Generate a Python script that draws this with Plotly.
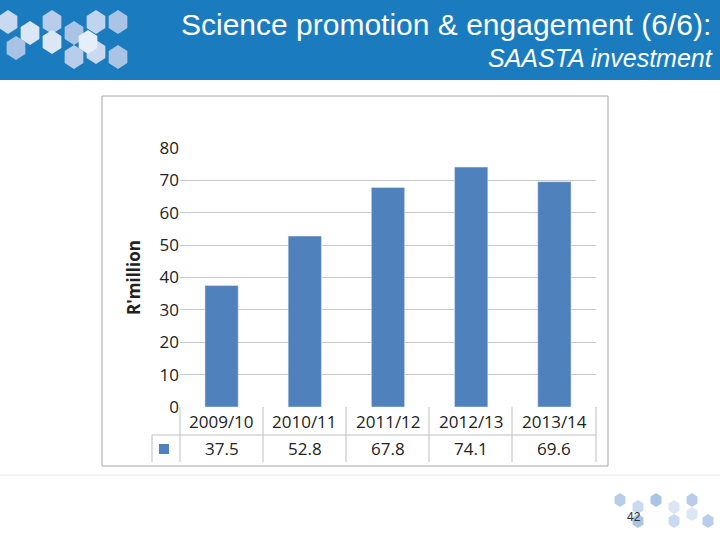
import math
import plotly.graph_objects as go

years = ["2009/10", "2010/11", "2011/12", "2012/13", "2013/14"]
spend = [37.5, 52.8, 67.8, 74.1, 69.6]
y_ticks = [0, 10, 20, 30, 40, 50, 60, 70, 80]

W, H = 720, 540


def px(x):
    return x / W


def py(y):
    return 1 - y / H


def hex_path(cx, cy, r):
    pts = []
    for k in range(6):
        a = math.radians(60 * k + 30)
        pts.append((px(cx + r * 0.9 * math.cos(a)), py(cy + r * math.sin(a))))
    return "M " + " L ".join(f"{a:.5f},{b:.5f}" for a, b in pts) + " Z"


fig = go.Figure()
fig.add_trace(go.Bar(x=years, y=spend, marker_color="#4f81bd", width=0.4))

shapes = []
# header band
shapes.append(dict(type="rect", xref="paper", yref="paper", x0=0, x1=1, y0=py(80), y1=1,
                   fillcolor="#1b7bbf", line_width=0, layer="below"))
# header hexagons
for cx, cy, c in [(8, 22, "#c9daf0"), (30, 33, "#dce7f5"), (52, 22, "#b7cde9"), (74, 33, "#aac4e6"),
                  (96, 22, "#c0d4ee"), (118, 22, "#aac4e6"), (16, 48, "#a9c3e5"), (52, 42, "#dce7f5"),
                  (74, 57, "#b7cde9"), (96, 52, "#c9daf0"), (118, 57, "#aac4e6"), (88, 42, "#e6eef9")]:
    shapes.append(dict(type="path", xref="paper", yref="paper", path=hex_path(cx, cy, 12),
                       fillcolor=c, line_width=0))
# footer hexagons
for cx, cy, c in [(620, 500, "#b7cde9"), (638, 507, "#c9daf0"), (656, 500, "#aac4e6"),
                  (674, 507, "#dce7f5"), (692, 500, "#b7cde9"), (638, 521, "#aac4e6"),
                  (674, 521, "#c9daf0"), (692, 514, "#dce7f5"), (708, 521, "#b7cde9")]:
    shapes.append(dict(type="path", xref="paper", yref="paper", path=hex_path(cx, cy, 7),
                       fillcolor=c, line_width=0))
# separator line
shapes.append(dict(type="line", xref="paper", yref="paper", x0=0, x1=1, y0=py(475), y1=py(475),
                   line=dict(color="#e6e6e6", width=1)))
# chart frame
shapes.append(dict(type="rect", xref="paper", yref="paper", x0=px(102), x1=px(608), y0=py(466), y1=py(96),
                   line=dict(color="#a6a6a6", width=1), fillcolor="rgba(0,0,0,0)"))
# data table lines
tc = "#bfbfbf"
for x in [180, 263, 346, 429, 512, 596]:
    shapes.append(dict(type="line", xref="paper", yref="paper", x0=px(x), x1=px(x), y0=py(407), y1=py(462),
                       line=dict(color=tc, width=1)))
shapes.append(dict(type="line", xref="paper", yref="paper", x0=px(152), x1=px(152), y0=py(435), y1=py(462),
                   line=dict(color=tc, width=1)))
shapes.append(dict(type="line", xref="paper", yref="paper", x0=px(152), x1=px(596), y0=py(435), y1=py(435),
                   line=dict(color=tc, width=1)))
shapes.append(dict(type="rect", xref="paper", yref="paper", x0=px(159), x1=px(169), y0=py(444), y1=py(454),
                   fillcolor="#4f81bd", line_width=0))

ann = []
font = dict(family="Open Sans, DejaVu Sans", size=17, color="#222")
for yr, v in zip(years, spend):
    ann.append(dict(x=yr, xref="x", y=py(421), yref="paper", yanchor="middle", text=yr,
                    showarrow=False, font=font))
    ann.append(dict(x=yr, xref="x", y=py(448), yref="paper", yanchor="middle", text=f"{v:.1f}",
                    showarrow=False, font=font))
ann.append(dict(x=px(713), y=py(25), xref="paper", yref="paper", xanchor="right", yanchor="middle",
                text="Science promotion & engagement (6/6):", showarrow=False,
                font=dict(family="Liberation Sans, Arial", size=30, color="white")))
ann.append(dict(x=px(715), y=py(58), xref="paper", yref="paper", xanchor="right", yanchor="middle",
                text="<i>SAASTA investment</i>", showarrow=False,
                font=dict(family="Liberation Sans, Arial", size=25, color="white")))
ann.append(dict(x=px(643), y=py(517), xref="paper", yref="paper", yanchor="middle", text="42",
                showarrow=False, font=dict(family="Liberation Sans, Arial", size=12, color="#333")))

fig.update_layout(
    width=W, height=H, margin=dict(l=0, r=0, t=0, b=0, autoexpand=False),
    paper_bgcolor="white", plot_bgcolor="white", showlegend=False,
    shapes=shapes, annotations=ann, bargap=0.6,
    xaxis=dict(domain=[px(180), px(596)], showticklabels=False, showline=False, showgrid=False,
               automargin=False),
    yaxis=dict(domain=[py(407), py(148)], range=[0, 80], tickvals=y_ticks, showgrid=True,
               gridcolor="#c8c8c8", zeroline=False, ticks="", ticklen=0, automargin=False,
               tickfont=dict(family="Open Sans, DejaVu Sans", size=17, color="#222"),
               title=dict(text="<b>R'million</b>", standoff=14,
                          font=dict(family="Open Sans, DejaVu Sans", size=17, color="#222"))),
)

fig.write_html("out.html", config={"displayModeBar": False},
               post_script="document.body.style.margin='0';")
